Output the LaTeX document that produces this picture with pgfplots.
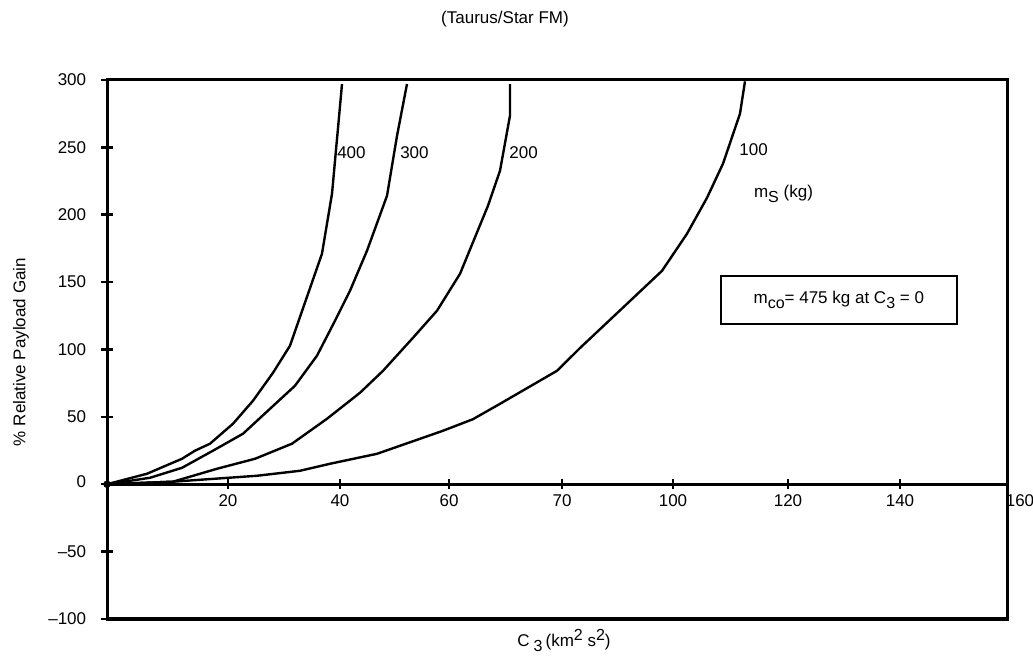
\documentclass[border=0pt]{standalone}
\usepackage{pgfplots}
\pgfplotsset{compat=1.18}
\usepackage{fontspec}
\setmainfont{Liberation Sans}
\newcommand\lo[1]{\raisebox{-5bp}{\fontsize{16bp}{16bp}\selectfont #1}}
\newcommand\hi[1]{\raisebox{6bp}{\fontsize{16bp}{16bp}\selectfont #1}}
\newcommand\F{\fontsize{17bp}{20bp}\selectfont}

\begin{document}
\F
\begin{tikzpicture}
\useasboundingbox (0,0) rectangle (1033bp,658bp);
\begin{axis}[
  at={(107bp,39bp)}, anchor=south west,
  width=900bp, height=539bp, scale only axis,
  xmin=0, xmax=160, ymin=-100, ymax=300,
  axis line style={line width=3bp},
  xtick=\empty,
  ytick={-100,-50,0,50,100,150,200,250,300},
  yticklabels={–100,–50,\raisebox{5bp}{0},50,100,150,200,250,300},
  ytick pos=left, tick align=center,
  major tick length=12bp,
  every tick/.style={line width=2.5bp, black},
  yticklabel style={font=\F, xshift=-9bp},
  clip=false,
]
\addplot[line width=2.4bp] coordinates {(0,0) (7.11,7.8) (13.33,18.9) (15.64,24.9) (18.31,30.1) (22.40,44.9) (25.96,62.0) (29.51,82.7) (32.53,102.8) (38.22,171.1) (40.0,215.6) (41.78,297)};
\addplot[line width=2.4bp] coordinates {(0,0) (7.64,4.8) (13.33,12.2) (18.84,24.9) (24.18,37.5) (28.98,56.0) (33.42,73.1) (37.33,95.4) (40.53,121.3) (43.2,143.6) (46.22,173.3) (49.78,214.1) (51.56,258.6) (53.33,297)};
\addplot[line width=2.4bp] coordinates {(0,0) (11.73,1.9) (19.56,11.5) (26.31,18.9) (32.89,30.1) (39.11,48.6) (44.98,67.9) (49.07,84.2) (54.4,108.7) (58.67,128.8) (62.76,156.2) (67.73,206.7) (69.87,232.7) (71.64,273.5) (71.64,297)};
\addplot[line width=2.4bp] coordinates {(0,0) (11.73,1.9) (26.67,6.3) (34.31,10.0) (39.64,15.2) (48.0,22.6) (59.73,39.7) (65.07,48.3) (69.87,59.7) (80.0,84.2) (84.09,101.1) (92.44,133.9) (98.67,158.4) (103.11,185.9) (106.67,212.6) (109.51,237.9) (112.53,275.0) (113.42,299)};
\addplot[only marks, mark=*, mark size=3.5bp] coordinates {(0,0)};
\node[anchor=west, inner sep=0, font=\F] at (axis cs:40.9,246) {400};
\node[anchor=west, inner sep=0, font=\F] at (axis cs:52.1,246) {300};
\node[anchor=west, inner sep=0, font=\F] at (axis cs:71.5,246) {200};
\node[anchor=west, inner sep=0, font=\F] at (axis cs:112.4,248.2) {100};
\node[anchor=west, inner sep=0, font=\F] at (axis cs:115.0,215.6) {m\lo{S} (kg)};
\node[draw, line width=2.5bp, minimum width=236bp, minimum height=48bp, inner sep=0, font=\F] at (axis cs:130.1,136.9) {m\lo{co}= 475 kg at C\lo{3} = 0};
\end{axis}
\begin{axis}[
  at={(107bp,39bp)}, anchor=south west,
  width=900bp, height=539bp, scale only axis,
  xmin=0, xmax=160, ymin=-100, ymax=300,
  axis x line=middle, axis y line=none,
  x axis line style={-, line width=2.8bp},
  xtick={21.51,41.42,60.8,80.89,100.62,121.07,140.98},
  xticklabels={20,40,60,70,100,120,140},
  extra x ticks={160}, extra x tick labels={160},
  extra x tick style={xticklabel style={xshift=13bp}},
  tick align=center, major tick length=10bp,
  every tick/.style={line width=2.5bp, black},
  xticklabel style={font=\F},
]
\end{axis}
\node[font=\F] at (505bp,639bp) {(Taurus/Star FM)};
\node[font=\F, rotate=90] at (21bp,306bp) {\% Relative Payload Gain};
\node[font=\F] at (564bp,18bp) {C\hspace{4bp}\lo{3}\hspace{3bp}(km\hi{2} s\hi{2})};
\end{tikzpicture}
\end{document}
